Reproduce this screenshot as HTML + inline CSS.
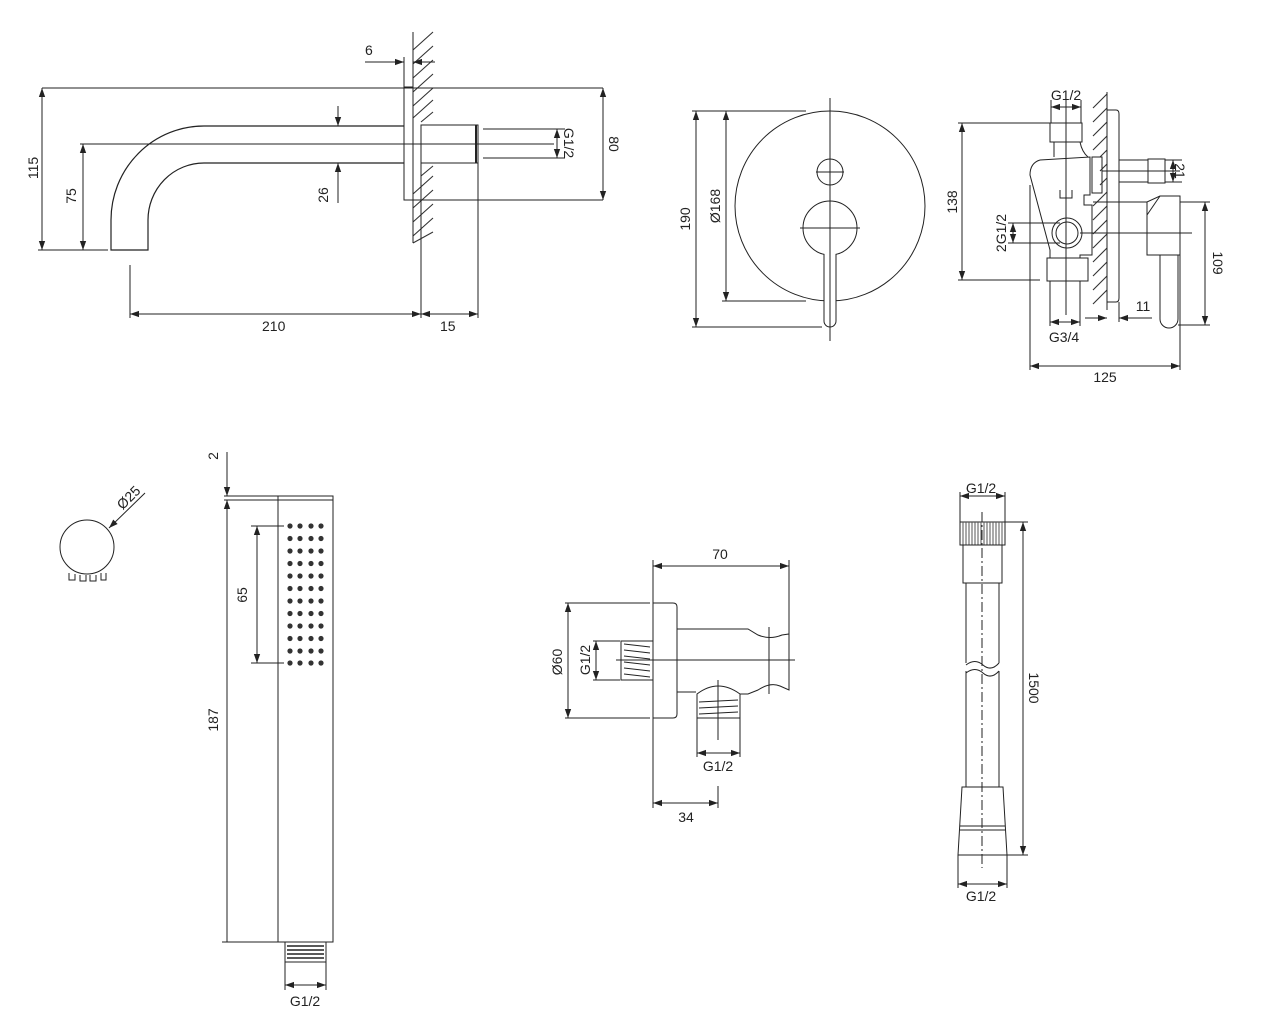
<!DOCTYPE html>
<html><head><meta charset="utf-8"><style>
html,body{margin:0;padding:0;background:#fff;}
svg{display:block;}
text{font-family:"Liberation Sans",sans-serif;font-size:14px;fill:#222;}
</style></head><body>
<svg width="1271" height="1029" viewBox="0 0 1271 1029" xmlns="http://www.w3.org/2000/svg">
<defs>
<marker id="a" viewBox="0 0 10 10" refX="10" refY="5" markerWidth="9" markerHeight="9" orient="auto-start-reverse" markerUnits="userSpaceOnUse"><path d="M0,1.5 L10,5 L0,8.5 z" fill="#222"/></marker>
</defs>
<g fill="none" stroke="#222" stroke-width="1">
<!-- ===== Spout ===== -->
<path d="M413,50 L433,32 M413,64 L433,46 M413,78 L433,60 M413,92 L433,74 M413,106 L433,88 M413,118 L433,100 M421,122 L433,112 M421,176 L433,166 M413,194 L433,176 M413,208 L433,190 M413,222 L433,204 M413,236 L433,218 M413,243 L433,232" stroke="#333" stroke-width="1.1"/>
<line x1="413" y1="32" x2="413" y2="243"/>
<rect x="404" y="87" width="9" height="113"/>
<path d="M404,126 H204 A93,94 0 0 0 111,220 V250 H148 V220 A56,57 0 0 1 204,163 H404" stroke-width="1.2"/>
<path d="M190,144 H554" />
<rect x="421" y="125" width="57" height="38"/>
<line x1="476" y1="125" x2="476" y2="163" stroke-width="2"/>
<line x1="483" y1="129" x2="565" y2="129"/><line x1="483" y1="158" x2="565" y2="158"/>
<line x1="557" y1="144" x2="557" y2="129" marker-end="url(#a)"/><line x1="557" y1="144" x2="557" y2="158" marker-end="url(#a)"/>
<line x1="42" y1="88" x2="603" y2="88"/>
<line x1="413" y1="200" x2="603" y2="200"/>
<line x1="603" y1="88" x2="603" y2="200" marker-start="url(#a)" marker-end="url(#a)"/>
<line x1="42" y1="88" x2="42" y2="250" marker-start="url(#a)" marker-end="url(#a)"/>
<line x1="38" y1="250" x2="108" y2="250"/>
<line x1="80" y1="144" x2="190" y2="144"/>
<line x1="83" y1="144" x2="83" y2="250" marker-start="url(#a)" marker-end="url(#a)"/>
<line x1="338" y1="106" x2="338" y2="126" marker-end="url(#a)"/>
<line x1="338" y1="203" x2="338" y2="163" marker-end="url(#a)"/>
<line x1="365" y1="62" x2="404" y2="62" marker-end="url(#a)"/>
<line x1="435" y1="62" x2="413" y2="62" marker-end="url(#a)"/>
<line x1="404" y1="57" x2="404" y2="87"/>
<line x1="130" y1="265" x2="130" y2="318"/><line x1="421" y1="163" x2="421" y2="318"/><line x1="478" y1="163" x2="478" y2="318"/>
<line x1="130" y1="314" x2="421" y2="314" marker-start="url(#a)" marker-end="url(#a)"/>
<line x1="421" y1="314" x2="478" y2="314" marker-start="url(#a)" marker-end="url(#a)"/>
<!-- ===== Mixer front ===== -->
<circle cx="830" cy="206" r="95"/>
<circle cx="830" cy="172" r="13"/>
<line x1="816" y1="172" x2="844" y2="172"/>
<circle cx="830" cy="228" r="27" fill="#fff"/>
<line x1="800" y1="228" x2="860" y2="228"/>
<path d="M824,254 V321 A6,6 0 0 0 836,321 V254" fill="#fff"/>
<line x1="830" y1="98" x2="830" y2="341"/>
<line x1="692" y1="111" x2="806" y2="111"/>
<line x1="692" y1="327" x2="822" y2="327"/>
<line x1="722" y1="301" x2="806" y2="301"/>
<line x1="696" y1="111" x2="696" y2="327" marker-start="url(#a)" marker-end="url(#a)"/>
<line x1="726" y1="111" x2="726" y2="301" marker-start="url(#a)" marker-end="url(#a)"/>
<!-- ===== Mixer side ===== -->
<path d="M1093,108 L1107,94 M1093,122 L1107,108 M1093,136 L1107,122 M1093,150 L1107,136 M1100,157 L1107,150 M1100,171 L1107,164 M1100,185 L1107,178 M1093,206 L1107,192 M1093,220 L1107,206 M1093,234 L1107,220 M1093,248 L1107,234 M1093,262 L1107,248 M1093,276 L1107,262 M1093,290 L1107,276 M1093,304 L1107,290" stroke="#333" stroke-width="1.1"/>
<line x1="1107" y1="92" x2="1107" y2="310"/>
<path d="M1107,110 H1116 Q1119,110 1119,114 V298 Q1119,302 1116,302 H1107"/>
<rect x="1050" y="123" width="32" height="19"/>
<path d="M1054,142 V157 M1080,142 Q1082,152 1088,157"/>
<path d="M1040,160 L1090,157 V195 H1084 V205 H1092 V255 H1080 V258 M1040,160 Q1030,163 1030,175 L1050,250 V258"/>
<rect x="1092" y="157" width="10" height="36"/>
<circle cx="1067" cy="233" r="15"/><circle cx="1067" cy="233" r="11"/>
<rect x="1047" y="258" width="41" height="23"/>
<path d="M1060,190 V198 H1072 V190 M1066,185 V205"/>
<rect x="1119" y="160" width="29" height="22"/>
<rect x="1148" y="159" width="17" height="24"/>
<path d="M1093,202 H1147 L1160,196 H1180 V255 H1147 V202"/>
<path d="M1147,215 L1160,196"/>
<path d="M1160,255 V319 A9,9 0 0 0 1178,319 V255"/>
<line x1="1066" y1="100" x2="1066" y2="315"/>
<line x1="1080" y1="233" x2="1192" y2="233"/>
<line x1="1102" y1="171" x2="1180" y2="171"/>
<line x1="958" y1="123" x2="1050" y2="123"/>
<line x1="958" y1="280" x2="1040" y2="280"/>
<line x1="962" y1="123" x2="962" y2="280" marker-start="url(#a)" marker-end="url(#a)"/>
<line x1="1180" y1="202" x2="1210" y2="202"/><line x1="1178" y1="325" x2="1210" y2="325"/>
<line x1="1205" y1="202" x2="1205" y2="325" marker-start="url(#a)" marker-end="url(#a)"/>
<line x1="1030" y1="185" x2="1030" y2="370"/><line x1="1180" y1="255" x2="1180" y2="370"/>
<line x1="1030" y1="366" x2="1180" y2="366" marker-start="url(#a)" marker-end="url(#a)"/>
<line x1="1051" y1="100" x2="1051" y2="123"/><line x1="1081" y1="100" x2="1081" y2="123"/>
<line x1="1051" y1="107" x2="1081" y2="107" marker-start="url(#a)" marker-end="url(#a)"/>
<line x1="1050" y1="281" x2="1050" y2="326"/><line x1="1080" y1="281" x2="1080" y2="326"/>
<line x1="1050" y1="322" x2="1080" y2="322" marker-start="url(#a)" marker-end="url(#a)"/>
<line x1="1085" y1="318" x2="1107" y2="318" marker-end="url(#a)"/>
<line x1="1152" y1="318" x2="1119" y2="318" marker-end="url(#a)"/>
<line x1="1119" y1="302" x2="1119" y2="322"/>
<line x1="1165" y1="160" x2="1182" y2="160"/><line x1="1165" y1="182" x2="1182" y2="182"/>
<line x1="1173" y1="171" x2="1173" y2="160" marker-end="url(#a)"/><line x1="1173" y1="171" x2="1173" y2="182" marker-end="url(#a)"/>
<line x1="1008" y1="223" x2="1060" y2="223"/><line x1="1008" y1="243" x2="1060" y2="243"/>
<line x1="1013" y1="233" x2="1013" y2="223" marker-end="url(#a)"/><line x1="1013" y1="233" x2="1013" y2="243" marker-end="url(#a)"/>
<!-- ===== Small circle ===== -->
<circle cx="87" cy="547" r="27"/>
<path d="M69,573 V580 H75 V574 M80,575 V581 H86 V575 M90,575 V581 H96 V575 M101,573 V580 H106 V573"/>
<line x1="145" y1="493" x2="109" y2="528" marker-end="url(#a)"/>
<!-- ===== Hand shower ===== -->
<rect x="278" y="496" width="55" height="446"/>
<line x1="278" y1="500" x2="333" y2="500"/>
<path d="M285,942 H326 V962 H285 Z"/>
<path d="M287,946 H324 M287,950 H324 M287,954 H324 M287,958 H324" stroke-width="1.4"/>
<line x1="224" y1="496" x2="278" y2="496"/><line x1="224" y1="500" x2="278" y2="500"/>
<line x1="227" y1="452" x2="227" y2="496" marker-end="url(#a)"/>
<line x1="227" y1="942" x2="227" y2="500" marker-end="url(#a)"/>
<line x1="222" y1="942" x2="278" y2="942"/>
<line x1="251" y1="526" x2="284" y2="526"/><line x1="251" y1="663" x2="284" y2="663"/>
<line x1="257" y1="526" x2="257" y2="663" marker-start="url(#a)" marker-end="url(#a)"/>
<line x1="285" y1="962" x2="285" y2="990"/><line x1="326" y1="962" x2="326" y2="990"/>
<line x1="285" y1="985" x2="326" y2="985" marker-start="url(#a)" marker-end="url(#a)"/>
<!-- ===== Wall elbow ===== -->
<path d="M653,603 H673 Q677,603 677,607 V714 Q677,718 673,718 H653 Z"/>
<rect x="621" y="641" width="32" height="39"/>
<path d="M624,644 L650,647 M624,650 L650,653 M624,656 L650,659 M624,662 L650,665 M624,668 L650,671 M624,674 L650,677"/>
<path d="M677,629 H748 L758,635 Q770,640 782,635 L789,634 V690 L780,686 Q770,682 758,690 L748,694 H740"/>
<path d="M677,692 H696"/>
<line x1="769" y1="627" x2="769" y2="694"/>
<path d="M697,718 V694 Q718,678 740,694 V718 Z"/>
<path d="M699,702 L738,700 M699,708 L738,706 M699,714 L738,712"/>
<line x1="616" y1="660" x2="795" y2="660"/>
<line x1="718" y1="680" x2="718" y2="740"/>
<line x1="653" y1="560" x2="653" y2="808"/><line x1="789" y1="560" x2="789" y2="634"/>
<line x1="653" y1="566" x2="789" y2="566" marker-start="url(#a)" marker-end="url(#a)"/>
<line x1="565" y1="603" x2="650" y2="603"/><line x1="565" y1="718" x2="650" y2="718"/>
<line x1="568" y1="603" x2="568" y2="718" marker-start="url(#a)" marker-end="url(#a)"/>
<line x1="593" y1="641" x2="620" y2="641"/><line x1="593" y1="680" x2="620" y2="680"/>
<line x1="596" y1="641" x2="596" y2="680" marker-start="url(#a)" marker-end="url(#a)"/>
<line x1="697" y1="718" x2="697" y2="757"/><line x1="740" y1="718" x2="740" y2="757"/>
<line x1="697" y1="753" x2="740" y2="753" marker-start="url(#a)" marker-end="url(#a)"/>
<line x1="718" y1="786" x2="718" y2="808"/>
<line x1="653" y1="803" x2="718" y2="803" marker-start="url(#a)" marker-end="url(#a)"/>
<!-- ===== Hose ===== -->
<rect x="960" y="522" width="45" height="23"/>
<path d="M963,522 V545 M966,522 V545 M969,522 V545 M972,522 V545 M975,522 V545 M978,522 V545 M981,522 V545 M984,522 V545 M987,522 V545 M990,522 V545 M993,522 V545 M996,522 V545 M999,522 V545 M1002,522 V545" stroke="#555"/>
<rect x="963" y="545" width="39" height="38"/>
<path d="M966,583 V663 M999,583 V663 M966,671 V787 M999,671 V787"/>
<path d="M966,665 Q975,658 983,665 T999,663 M966,673 Q975,666 983,673 T999,671"/>
<path d="M962,787 H1003 L1007,855 H958 Z"/>
<path d="M960,826 H1005 M960,830 H1005"/>
<line x1="982" y1="512" x2="982" y2="868" stroke-dasharray="10,3,2,3"/>
<line x1="1005" y1="522" x2="1028" y2="522"/><line x1="1007" y1="855" x2="1028" y2="855"/>
<line x1="1023" y1="522" x2="1023" y2="855" marker-start="url(#a)" marker-end="url(#a)"/>
<line x1="960" y1="492" x2="960" y2="522"/><line x1="1005" y1="492" x2="1005" y2="522"/>
<line x1="960" y1="496" x2="1005" y2="496" marker-start="url(#a)" marker-end="url(#a)"/>
<line x1="958" y1="855" x2="958" y2="888"/><line x1="1007" y1="855" x2="1007" y2="888"/>
<line x1="958" y1="884" x2="1007" y2="884" marker-start="url(#a)" marker-end="url(#a)"/>
</g>
<g fill="#333">
<g id="row"><circle cx="290" cy="526" r="2.6"/><circle cx="300" cy="526" r="2.6"/><circle cx="311" cy="526" r="2.6"/><circle cx="321" cy="526" r="2.6"/></g>
<use href="#row" y="12.5"/><use href="#row" y="25"/><use href="#row" y="37.5"/><use href="#row" y="50"/><use href="#row" y="62.5"/><use href="#row" y="75"/><use href="#row" y="87.5"/><use href="#row" y="100"/><use href="#row" y="112.5"/><use href="#row" y="125"/><use href="#row" y="137"/>
</g>
<text x="365" y="55">6</text>
<text x="262" y="331">210</text>
<text x="440" y="331">15</text>
<text transform="translate(38,168) rotate(-90)" text-anchor="middle">115</text>
<text transform="translate(76,196) rotate(-90)" text-anchor="middle">75</text>
<text transform="translate(328,195) rotate(-90)" text-anchor="middle">26</text>
<text transform="translate(564,143) rotate(90)" text-anchor="middle">G1/2</text>
<text transform="translate(609,144) rotate(90)" text-anchor="middle">80</text>
<text transform="translate(690,219) rotate(-90)" text-anchor="middle">190</text>
<text transform="translate(720,206) rotate(-90)" text-anchor="middle">Ø168</text>
<text x="1066" y="100" text-anchor="middle">G1/2</text>
<text transform="translate(957,202) rotate(-90)" text-anchor="middle">138</text>
<text transform="translate(1006,233) rotate(-90)" text-anchor="middle">2G1/2</text>
<text transform="translate(1175,171) rotate(90)" text-anchor="middle">21</text>
<text transform="translate(1213,263) rotate(90)" text-anchor="middle">109</text>
<text x="1143" y="311" text-anchor="middle">11</text>
<text x="1064" y="342" text-anchor="middle">G3/4</text>
<text x="1105" y="382" text-anchor="middle">125</text>
<text transform="translate(132,501) rotate(-45)" text-anchor="middle">Ø25</text>
<text transform="translate(218,456) rotate(-90)" text-anchor="middle">2</text>
<text transform="translate(247,595) rotate(-90)" text-anchor="middle">65</text>
<text transform="translate(218,720) rotate(-90)" text-anchor="middle">187</text>
<text x="305" y="1006" text-anchor="middle">G1/2</text>
<text x="720" y="559" text-anchor="middle">70</text>
<text transform="translate(562,662) rotate(-90)" text-anchor="middle">Ø60</text>
<text transform="translate(590,660) rotate(-90)" text-anchor="middle">G1/2</text>
<text x="718" y="771" text-anchor="middle">G1/2</text>
<text x="686" y="822" text-anchor="middle">34</text>
<text x="981" y="493" text-anchor="middle">G1/2</text>
<text transform="translate(1029,688) rotate(90)" text-anchor="middle">1500</text>
<text x="981" y="901" text-anchor="middle">G1/2</text>
</svg>
</body></html>
